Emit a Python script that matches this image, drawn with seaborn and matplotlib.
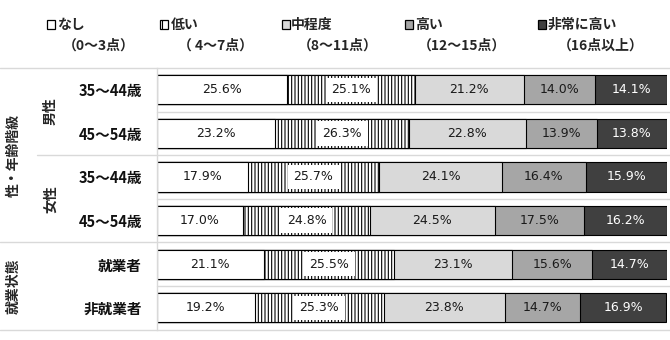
import numpy as np
import pandas as pd
import matplotlib
matplotlib.use("Agg")
import matplotlib.pyplot as plt
import matplotlib.transforms as mtrans
from matplotlib.patches import Rectangle
from matplotlib.lines import Line2D
import seaborn as sns

# ---- data -------------------------------------------------------------
levels = ["なし", "低い", "中程度", "高い", "非常に高い"]
level_ranges = ["（0～3点）", "（ 4～7点）", "（8～11点）", "（12～15点）", "（16点以上）"]
row_labels = ["35～44歳", "45～54歳", "35～44歳", "45～54歳", "就業者", "非就業者"]
row_keys = ["男性35-44", "男性45-54", "女性35-44", "女性45-54", "就業者", "非就業者"]

none_pct = [25.6, 23.2, 17.9, 17.0, 21.1, 19.2]
low_pct = [25.1, 26.3, 25.7, 24.8, 25.5, 25.3]
mid_pct = [21.2, 22.8, 24.1, 24.5, 23.1, 23.8]
high_pct = [14.0, 13.9, 16.4, 17.5, 15.6, 14.7]
very_high_pct = [14.1, 13.8, 15.9, 16.2, 14.7, 16.9]

# outer / inner group captions: (text, first row, last row)
outer_groups = [("性・年齢階級", 0, 3), ("就業状態", 4, 5)]
inner_groups = [("男性", 0, 1), ("女性", 2, 3)]

# ---- style ------------------------------------------------------------
sns.set_style("white")
plt.rcParams["font.family"] = ["Noto Sans CJK JP", "DejaVu Sans"]
plt.rcParams["hatch.linewidth"] = 0.8

face_colors = ["#ffffff", "#ffffff", "#d9d9d9", "#a6a6a6", "#404040"]
hatches = [None, "|||||", None, None, None]
text_colors = ["#1a1a1a", "#1a1a1a", "#1a1a1a", "#1a1a1a", "#ffffff"]
grid_gray = "#d9d9d9"

W, H = 670, 340
fig = plt.figure(figsize=(W / 100, H / 100), dpi=100)
ax_left, ax_right, ax_top, ax_bottom = 156.5, 667.0, 68.0, 329.5
ax = fig.add_axes([ax_left / W, 1 - ax_bottom / H,
                   (ax_right - ax_left) / W, (ax_bottom - ax_top) / H])

values = np.array([none_pct, low_pct, mid_pct, high_pct, very_high_pct]).T
cum = np.cumsum(values, axis=1)
df = pd.DataFrame(cum, columns=levels)
df["row"] = row_keys

# stacked bars: draw cumulative totals from the widest down so each
# segment shows through as the part not covered by the next layer
for i in reversed(range(len(levels))):
    sns.barplot(data=df, x=levels[i], y="row", orient="y",
                color=face_colors[i], saturation=1, errorbar=None,
                edgecolor="black", linewidth=0.8, width=0.67,
                hatch=hatches[i], ax=ax)

ax.set_xlim(0, 100)
ax.set_ylim(len(row_keys) - 0.5, -0.5)
ax.set_xlabel("")
ax.set_ylabel("")
ax.set_xticks([])
ax.set_yticks(range(len(row_keys)))
ax.set_yticklabels(row_labels, fontsize=10.5, fontweight="bold", color="#111111")
ax.tick_params(axis="y", length=0, pad=10.5)
for s in ["top", "right", "bottom"]:
    ax.spines[s].set_visible(False)
ax.spines["left"].set_color(grid_gray)
ax.spines["left"].set_linewidth(1.0)

# value labels
for r in range(len(row_keys)):
    for i in range(len(levels)):
        v = values[r, i]
        x = cum[r, i] - v / 2
        kw = {}
        if hatches[i]:
            kw["bbox"] = dict(boxstyle="square,pad=0.45", fc="white", ec="none")
        ax.text(x, r, f"{v:.1f}%", ha="center", va="center",
                fontsize=9, family="DejaVu Sans", color=text_colors[i], **kw)

# row separator lines (figure x, data y)
blend = mtrans.blended_transform_factory(fig.transFigure, ax.transData)
ax_x0 = ax_left / W
separators = [(-0.5, 0.0), (0.5, ax_x0), (1.5, 37 / W), (2.5, ax_x0),
              (3.5, 0.0), (4.5, ax_x0), (5.5, 0.0)]
for y, x0 in separators:
    fig.add_artist(Line2D([x0, 1.0], [y, y], transform=blend,
                          color=grid_gray, linewidth=1.0))

# group captions
for text, r0, r1 in outer_groups:
    fig.text(14 / W, (r0 + r1) / 2, text, transform=blend, rotation=90,
             ha="center", va="center", fontsize=10, fontweight="bold")
for text, r0, r1 in inner_groups:
    fig.text(51 / W, (r0 + r1) / 2, text, transform=blend, rotation=90,
             ha="center", va="center", fontsize=10, fontweight="bold")

# legend
marker_x = [47, 160, 282, 405, 538]
label_x = [57, 171, 291, 415, 548]
range_x = [63, 178, 298, 418, 558]
y1, y2 = 24.5, 46
for i in range(len(levels)):
    fig.add_artist(Rectangle((marker_x[i] / W, 1 - (y1 + 4) / H), 8 / W, 8 / H,
                             transform=fig.transFigure, facecolor=face_colors[i],
                             edgecolor="black", linewidth=0.9,
                             hatch="||" if hatches[i] else None))
    fig.text(label_x[i] / W, 1 - y1 / H, levels[i], ha="left", va="center",
             fontsize=10, fontweight="bold")
    fig.text(range_x[i] / W, 1 - y2 / H, level_ranges[i], ha="left", va="center",
             fontsize=10, fontweight="bold")

fig.savefig("out.png", dpi=100)
